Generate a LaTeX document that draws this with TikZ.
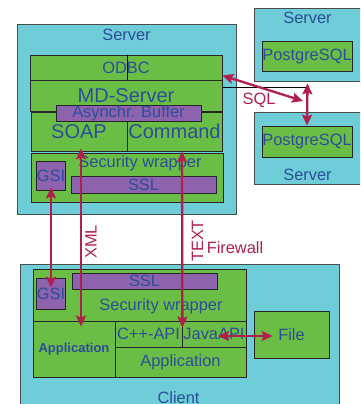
\documentclass[tikz,border=0pt]{standalone}
\usepackage{fontspec}
\setmainfont{Liberation Sans}
\usetikzlibrary{arrows.meta,positioning}
\definecolor{hostcyan}{HTML}{6FCDD8}
\definecolor{layergreen}{HTML}{6BBE45}
\definecolor{bufpurple}{HTML}{8E63AD}
\definecolor{textblue}{HTML}{2C4E9A}
\definecolor{linkred}{HTML}{B11F4E}
\tikzset{%
	host/.style    = {draw=black!70, line width=0.8pt, fill=hostcyan, rectangle, inner sep=0pt},
	layer/.style   = {draw=black!85, line width=0.8pt, fill=layergreen, rectangle, inner sep=0pt, text=textblue, font=\fontsize{16.4}{18}\selectfont},
	bigger/.style  = {font=\fontsize{20}{22}\selectfont},
	stripe/.style  = {layer, fill=bufpurple},
	caption/.style = {text=textblue, inner sep=0pt, font=\fontsize{16.4}{18}\selectfont},
	redlabel/.style= {text=linkred, inner sep=0pt, font=\fontsize{16.4}{18}\selectfont},
	link/.style    = {line width=2.3pt, draw=linkred, {Stealth[length=11pt,width=10pt,inset=2pt]}-{Stealth[length=11pt,width=10pt,inset=2pt]}},
}

\begin{document}
\begin{tikzpicture}[x=1pt,y=-1pt]
	\useasboundingbox (0,0) rectangle (360,404);
	\clip (0,0) rectangle (360,404);
	
	% server with MD-Server stack
	\node[host, minimum width=219pt, minimum height=190pt] (server) at (126.5,119) {};
	\node[caption] (servername) at (126.5,34.5) {Server};
	\node[layer, minimum width=192pt, minimum height=25pt] (odbc) at (126,67.5) {ODBC};
	\draw[line width=0.8pt] ([xshift=1pt]odbc.north) -- ([xshift=1pt]odbc.south);
	\node[layer, bigger, minimum width=192pt, minimum height=31pt] (mdserver) at (126,95.5) {MD-Server};
	\node[layer, bigger, minimum width=96pt, minimum height=39pt] (soap) at (79,131.5) {SOAP};
	\node[layer, bigger, minimum width=95pt, minimum height=39pt] (command) at (174.5,131.5) {Command};
	\node[stripe, minimum width=145pt, minimum height=16pt] (buffer) at (128.5,113) {Asynchr. Buffer};
	\node[layer, minimum width=192pt, minimum height=49pt] (wrapper) at (127,177.5) {};
	\node[caption] (wrappername) at (140,163) {Security wrapper};
	\node[stripe, minimum width=28pt, minimum height=29pt] (gsi) at (51,175.5) {GSI};
	\node[stripe, minimum width=145pt, minimum height=17pt] (ssl) at (143.5,184.5) {SSL};
	
	% database servers
	\node[host, minimum width=107pt, minimum height=73pt] (dbservera) at (307.5,44.5) {};
	\node[caption] (dbnamea) at (307.5,17.5) {Server};
	\node[layer, minimum width=90pt, minimum height=30pt] (pga) at (307,56) {PostgreSQL};
	\node[host, minimum width=107pt, minimum height=72pt] (dbserverb) at (307.5,148) {};
	\node[layer, minimum width=90pt, minimum height=31pt] (pgb) at (307,141.5) {PostgreSQL};
	\node[caption] (dbnameb) at (307.5,175) {Server};
	
	% client
	\node[host, minimum width=319pt, minimum height=148pt] (client) at (179.5,338) {};
	\node[caption] (clientname) at (178.5,397.5) {Client};
	\node[layer, minimum width=213pt, minimum height=52pt] (cwrapper) at (139.5,295) {};
	\node[caption] (cwrappername) at (161,306) {Security wrapper};
	\node[stripe, minimum width=145pt, minimum height=16pt] (cssl) at (144.5,281) {SSL};
	\node[stripe, minimum width=28pt, minimum height=31pt] (cgsi) at (51,293.5) {GSI};
	\node[layer, minimum width=82pt, minimum height=56pt, font=\fontsize{13}{15}\selectfont\bfseries] (capp) at (74,349) {Application};
	\node[layer, minimum width=67pt, minimum height=26pt] (cppapi) at (148.5,334) {C++-API};
	\node[layer, minimum width=64pt, minimum height=26pt] (javaapi) at (214,334) {JavaAPI};
	\node[layer, minimum width=131pt, minimum height=30pt] (app) at (180.5,362) {Application};
	\node[layer, minimum width=75pt, minimum height=47pt] (file) at (291.5,334.5) {File};
	
	% connections
	\coordinate (sqlend) at (303,101);
	\draw[line width=0.6pt] ([yshift=8.5pt]mdserver.east) -- ++(84,0);
	\draw[link] ([yshift=-8pt]odbc.east) -- (sqlend);
	\draw[link] ([yshift=-2pt]dbservera.south) -- (pgb.north);
	\draw[link] ([yshift=3pt]gsi.south) -- ([yshift=-10pt]cgsi.north);
	\draw[link] ([xshift=2pt,yshift=3pt]soap.south) -- ([xshift=7pt,yshift=-6pt]capp.north);
	\draw[link] ([xshift=7.5pt]command.south) -- ([yshift=-7pt]cppapi.north east);
	\draw[link] ([xshift=4pt,yshift=-2pt]javaapi.center) -- ([xshift=19pt,yshift=-1.5pt]file.west);
	\node[redlabel] (sqlname) at (259,100) {SQL};
	\node[redlabel, rotate=90] (xmlname) at (91,242) {XML};
	\node[redlabel, rotate=90] (textname) at (197.5,241) {TEXT};
	\node[redlabel] (firewallname) at (235,247.5) {Firewall};
\end{tikzpicture}
\end{document}
